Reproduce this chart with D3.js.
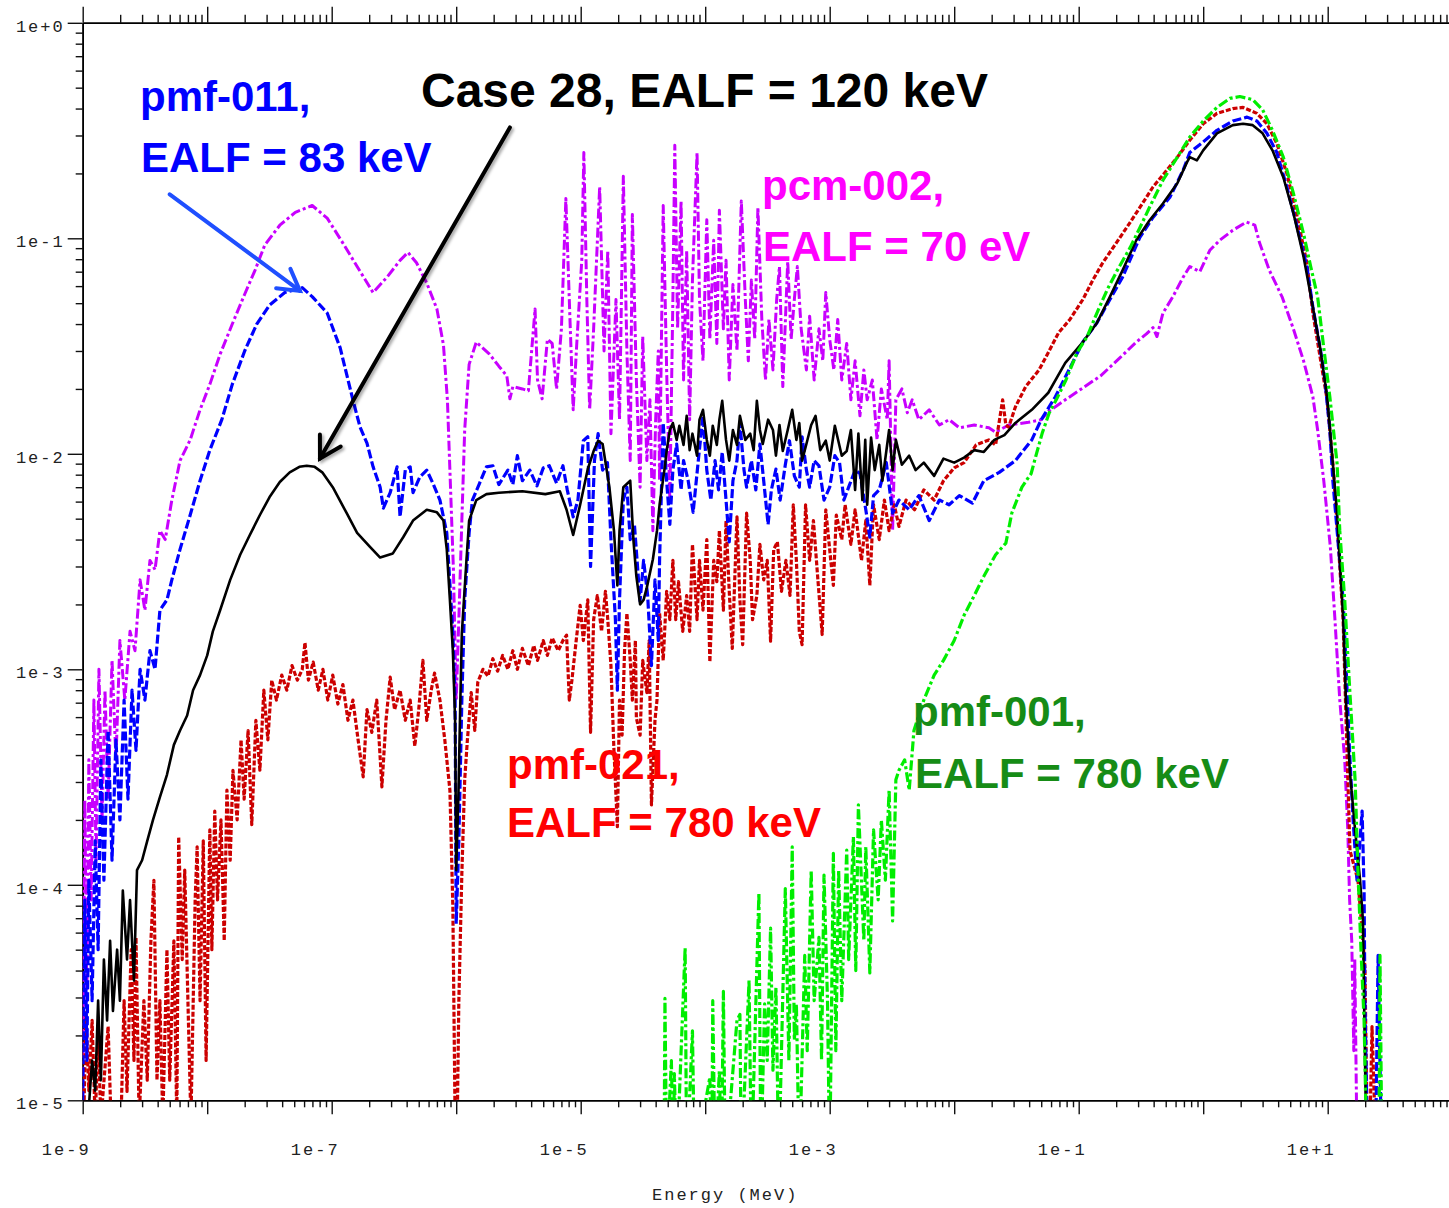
<!DOCTYPE html>
<html>
<head>
<meta charset="utf-8">
<script src="https://cdn.jsdelivr.net/npm/d3@7"></script>
<style>
    body { margin: 0; background: #fff; }
    svg { display: block; }
    .tick-label { font-family: "Liberation Mono", "DejaVu Sans Mono", monospace; font-size: 17px; fill: #222; letter-spacing: 2px; }
    .note { font-family: "Liberation Sans", Arial, Helvetica, sans-serif; font-weight: bold; font-size: 42px; }
</style>
</head>
<body>
<svg id="chart"></svg>
<script>
// flux per unit lethargy vs energy (MeV)
// values of 5e-6 / 8e-6 mean "falls below the bottom of the chart"

// pcm-002, EALF = 70 eV
const pcm002 = [
    [1.0e-9,1.05e-5],[1.04e-9,2.47e-4],[1.08e-9,2.9e-5],[1.12e-9,3.8e-4],[1.17e-9,8.5e-5],[1.23e-9,7.2e-4],[1.28e-9,1.3e-4],
    [1.35e-9,1.0e-3],[1.43e-9,2.0e-4],[1.51e-9,8.0e-4],[1.6e-9,2.5e-4],[1.72e-9,1.1e-3],[1.85e-9,3.8e-4],[1.99e-9,1.36e-3],
    [2.18e-9,7.2e-4],[2.4e-9,1.5e-3],[2.63e-9,1.22e-3],[2.89e-9,2.6e-3],[3.16e-9,1.88e-3],[3.47e-9,3.2e-3],[3.81e-9,2.9e-3],
    [4.17e-9,4.4e-3],[4.6e-9,4.0e-3],[5.2e-9,6.1e-3],[6.05e-9,9.3e-3],[7.3e-9,1.16e-2],[8.76e-9,1.6e-2],[1.05e-8,2.1e-2],
    [1.27e-8,2.9e-2],[1.59e-8,4.0e-2],[2.0e-8,5.5e-2],[2.42e-8,7.1e-2],[2.9e-8,9.3e-2],[3.83e-8,1.15e-1],[5.1e-8,1.32e-1],
    [6.97e-8,1.42e-1],[9.2e-8,1.24e-1],[1.23e-7,9.5e-2],[1.6e-7,7.4e-2],[2.15e-7,5.6e-2],[2.78e-7,6.6e-2],[3.54e-7,7.9e-2],
    [4.1e-7,8.6e-2],[4.8e-7,7.7e-2],[5.8e-7,6.2e-2],[7.0e-7,4.7e-2],[7.9e-7,3.2e-2],[8.5e-7,1.78e-2],[8.9e-7,8.4e-3],
    [9.5e-7,2.9e-3],[1.0e-6,7.2e-4],[1.05e-6,1.7e-3],[1.11e-6,4.9e-3],[1.17e-6,1.29e-2],[1.27e-6,2.6e-2],[1.45e-6,3.3e-2],
    [1.85e-6,2.9e-2],[2.2e-6,2.55e-2],[2.55e-6,2.3e-2],[2.7e-6,1.8e-2],[2.85e-6,2.05e-2],[3.4e-6,2.0e-2],[3.8e-6,1.96e-2],
    [4.3e-6,4.7e-2],[4.5e-6,2.2e-2],[4.9e-6,1.8e-2],[5.4e-6,3.4e-2],[5.9e-6,3.25e-2],[6.4e-6,2.0e-2],[7.0e-6,3.8e-2],
    [7.6e-6,1.53e-1],[8.2e-6,4.2e-2],[8.7e-6,1.6e-2],[9.3e-6,3.25e-2],[1.02e-5,7.9e-2],[1.06e-5,2.5e-1],[1.12e-5,5.2e-2],
    [1.18e-5,1.6e-2],[1.27e-5,3.8e-2],[1.42e-5,1.73e-1],[1.54e-5,3.0e-2],[1.65e-5,8.8e-2],[1.75e-5,1.24e-2],[1.92e-5,5.2e-2],
    [2.05e-5,1.44e-2],[2.2e-5,1.94e-1],[2.35e-5,3.0e-2],[2.5e-5,9.3e-3],[2.6e-5,1.29e-1],[2.8e-5,2.2e-2],[3.0e-5,7.0e-3],
    [3.15e-5,3.5e-2],[3.4e-5,9.3e-3],[3.6e-5,1.78e-2],[3.8e-5,4.4e-3],[4.0e-5,1.44e-2],[4.2e-5,3.0e-2],[4.3e-5,7.5e-3],
    [4.6e-5,1.42e-1],[4.9e-5,2.45e-2],[5.2e-5,6.1e-3],[5.5e-5,5.2e-2],[5.7e-5,2.7e-1],[6.0e-5,3.8e-2],[6.4e-5,1.49e-1],
    [6.7e-5,2.2e-2],[7.1e-5,8.8e-2],[7.5e-5,1.44e-2],[7.9e-5,6.4e-2],[8.6e-5,2.5e-1],[9.0e-5,5.2e-2],[9.6e-5,2.7e-2],
    [1.03e-4,1.22e-1],[1.09e-4,3.4e-2],[1.17e-4,9.8e-2],[1.24e-4,3.25e-2],[1.3e-4,1.35e-1],[1.4e-4,3.8e-2],[1.47e-4,7.9e-2],
    [1.56e-4,2.2e-2],[1.67e-4,6.1e-2],[1.8e-4,3.0e-2],[1.95e-4,1.49e-1],[2.1e-4,5.2e-2],[2.22e-4,2.7e-2],[2.35e-4,6.4e-2],
    [2.5e-4,3.4e-2],[2.65e-4,1.39e-1],[2.85e-4,4.2e-2],[3.05e-4,2.2e-2],[3.25e-4,4.2e-2],[3.5e-4,2.45e-2],[3.75e-4,5.2e-2],
    [3.95e-4,7.4e-2],[4.2e-4,2.05e-2],[4.6e-4,7.8e-2],[4.9e-4,3.4e-2],[5.2e-4,5.2e-2],[5.5e-4,7.4e-2],[5.9e-4,3.8e-2],
    [6.5e-4,2.45e-2],[6.9e-4,4.35e-2],[7.5e-4,2.2e-2],[8.2e-4,3.8e-2],[8.8e-4,2.7e-2],[9.3e-4,5.6e-2],[1.0e-3,3.4e-2],
    [1.08e-3,2.45e-2],[1.16e-3,4.2e-2],[1.25e-3,2.2e-2],[1.37e-3,3.25e-2],[1.48e-3,1.78e-2],[1.6e-3,2.7e-2],[1.75e-3,1.5e-2],
    [1.88e-3,2.45e-2],[2.0e-3,1.78e-2],[2.2e-3,2.2e-2],[2.4e-3,1.16e-2],[2.6e-3,2.0e-2],[2.9e-3,1.44e-2],[3.0e-3,2.7e-2],
    [3.2e-3,4.4e-3],[3.4e-3,1.78e-2],[3.8e-3,2.0e-2],[4.2e-3,1.55e-2],[4.6e-3,1.78e-2],[5.2e-3,1.44e-2],[6.3e-3,1.6e-2],
    [7.6e-3,1.36e-2],[9.1e-3,1.44e-2],[1.1e-2,1.32e-2],[1.45e-2,1.36e-2],[1.9e-2,1.32e-2],[2.15e-2,1.26e-2],[2.74e-2,1.36e-2],
    [3.95e-2,1.4e-2],[5.0e-2,1.44e-2],[5.7e-2,1.57e-2],[7.8e-2,1.78e-2],[1.05e-1,2.0e-2],[1.5e-1,2.3e-2],[2.16e-1,2.8e-2],
    [2.9e-1,3.3e-2],[3.5e-1,3.6e-2],[3.95e-1,3.85e-2],[4.25e-1,3.5e-2],[4.75e-1,4.5e-2],[5.7e-1,5.35e-2],[6.9e-1,6.6e-2],
    [7.8e-1,7.4e-2],[9.4e-1,7.0e-2],[1.13,8.8e-2],[1.36,9.8e-2],[1.73,1.09e-1],[2.23,1.19e-1],[2.6,1.15e-1],[2.84,9.5e-2],
    [3.4,7.1e-2],[4.3,5.35e-2],[5.3,3.8e-2],[6.4,2.7e-2],[7.6,1.84e-2],[8.3,1.29e-2],[9.3,7.5e-3],[10.5,3.7e-3],
    [11.4,1.75e-3],[12.5,7.2e-4],[13.7,3.8e-4],[14.5,1.8e-4],[15.0,8.5e-5],[15.6,5.5e-5],[16.2,1.7e-5],[16.5,4.5e-5],[17.1,8e-6]
];

// pmf-011, EALF = 83 keV
const pmf011 = [
    [1.0e-9,1.0e-5],[1.04e-9,8.5e-5],[1.08e-9,1.53e-5],[1.12e-9,1.05e-4],[1.19e-9,2.9e-5],[1.26e-9,1.6e-4],[1.33e-9,5.0e-5],
    [1.4e-9,3.8e-4],[1.48e-9,1.05e-4],[1.6e-9,5.2e-4],[1.72e-9,1.3e-4],[1.85e-9,4.7e-4],[1.99e-9,2.0e-4],[2.15e-9,7.2e-4],
    [2.31e-9,2.5e-4],[2.49e-9,8.0e-4],[2.68e-9,4.2e-4],[2.89e-9,1.0e-3],[3.16e-9,7.2e-4],[3.47e-9,1.22e-3],[3.81e-9,1.0e-3],
    [4.17e-9,1.88e-3],[4.75e-9,2.1e-3],[5.2e-9,2.6e-3],[6.05e-9,3.6e-3],[7.3e-9,5.2e-3],[8.76e-9,7.5e-3],[1.05e-8,1.04e-2],
    [1.31e-8,1.44e-2],[1.59e-8,2.1e-2],[2.0e-8,3.0e-2],[2.5e-8,4.0e-2],[3.17e-8,4.9e-2],[4.2e-8,5.6e-2],[5.8e-8,5.9e-2],
    [7.0e-8,5.35e-2],[9.2e-8,4.5e-2],[1.17e-7,3.1e-2],[1.48e-7,1.78e-2],[1.69e-7,1.33e-2],[1.92e-7,1.12e-2],[2.15e-7,8.7e-3],
    [2.45e-7,7.0e-3],[2.6e-7,5.6e-3],[2.95e-7,6.6e-3],[3.35e-7,8.7e-3],[3.54e-7,5.1e-3],[3.9e-7,8.4e-3],[4.27e-7,8.7e-3],
    [4.5e-7,6.6e-3],[5.1e-7,7.8e-3],[5.8e-7,8.4e-3],[6.5e-7,7.3e-3],[7.4e-7,6.1e-3],[8.4e-7,4.3e-3],[8.9e-7,2.5e-3],
    [9.4e-7,1.47e-3],[9.8e-7,7.2e-4],[1.0e-6,6.6e-5],[1.05e-6,1.6e-4],[1.11e-6,7.2e-4],[1.17e-6,2.1e-3],[1.27e-6,4.3e-3],
    [1.35e-6,6.1e-3],[1.54e-6,7.3e-3],[1.75e-6,8.7e-3],[1.97e-6,8.8e-3],[2.2e-6,7.2e-3],[2.6e-6,8.4e-3],[2.85e-6,7.2e-3],
    [3.1e-6,9.8e-3],[3.4e-6,7.5e-3],[3.9e-6,8.4e-3],[4.45e-6,7.1e-3],[5.0e-6,8.6e-3],[5.6e-6,8.8e-3],[6.4e-6,7.3e-3],
    [7.2e-6,8.8e-3],[7.8e-6,6.8e-3],[8.7e-6,5.1e-3],[9.5e-6,6.1e-3],[1.05e-5,1.15e-2],[1.14e-5,1.2e-2],[1.2e-5,3.0e-3],
    [1.29e-5,9.3e-3],[1.38e-5,1.24e-2],[1.5e-5,8.4e-3],[1.64e-5,9.1e-3],[1.75e-5,4.0e-3],[1.9e-5,1.7e-3],[1.97e-5,8.0e-4],
    [2.05e-5,2.1e-3],[2.2e-5,6.1e-3],[2.35e-5,7.0e-3],[2.5e-5,4.0e-3],[2.7e-5,4.7e-3],[3.0e-5,2.07e-3],[3.2e-5,3.2e-3],
    [3.45e-5,2.2e-3],[3.7e-5,1.04e-3],[3.95e-5,2.6e-3],[4.2e-5,1.36e-3],[4.3e-5,3.2e-3],[4.6e-5,1.39e-2],[4.9e-5,7.5e-3],
    [5.2e-5,4.7e-3],[5.5e-5,8.4e-3],[5.9e-5,1.11e-2],[6.4e-5,6.8e-3],[6.7e-5,9.3e-3],[7.3e-5,7.5e-3],[8.0e-5,5.35e-3],
    [8.8e-5,9.3e-3],[9.6e-5,1.5e-2],[1.03e-4,8.4e-3],[1.11e-4,6.1e-3],[1.2e-4,9.3e-3],[1.28e-4,6.8e-3],[1.37e-4,1.02e-2],
    [1.47e-4,6.1e-3],[1.56e-4,3.9e-3],[1.67e-4,7.5e-3],[1.8e-4,9.3e-3],[1.9e-4,1.39e-2],[2.05e-4,8.4e-3],[2.15e-4,7.0e-3],
    [2.35e-4,9.3e-3],[2.55e-4,6.8e-3],[2.75e-4,1.11e-2],[2.95e-4,7.5e-3],[3.2e-4,4.7e-3],[3.4e-4,6.8e-3],[3.7e-4,8.5e-3],
    [4.0e-4,6.1e-3],[4.4e-4,8.9e-3],[4.75e-4,1.15e-2],[5.2e-4,7.9e-3],[5.7e-4,7.0e-3],[6.0e-4,1.2e-2],[6.5e-4,8.4e-3],
    [6.9e-4,7.0e-3],[7.5e-4,9.3e-3],[8.2e-4,8.8e-3],[9.0e-4,6.1e-3],[1.0e-3,7.0e-3],[1.1e-3,9.8e-3],[1.2e-3,9.1e-3],
    [1.3e-3,6.1e-3],[1.42e-3,7.0e-3],[1.6e-3,8.4e-3],[1.75e-3,8.1e-3],[1.95e-3,5.5e-3],[2.1e-3,4.1e-3],[2.25e-3,6.4e-3],
    [2.5e-3,6.8e-3],[2.85e-3,9.1e-3],[3.2e-3,5.3e-3],[3.6e-3,6.1e-3],[4.35e-3,5.5e-3],[5.2e-3,6.4e-3],[6.3e-3,4.9e-3],
    [7.6e-3,6.1e-3],[9.1e-3,5.8e-3],[1.1e-2,6.4e-3],[1.4e-2,5.9e-3],[1.73e-2,7.5e-3],[2.3e-2,8.2e-3],[3.1e-2,9.3e-3],
    [4.2e-2,1.16e-2],[5.0e-2,1.44e-2],[6.5e-2,1.84e-2],[8.5e-2,2.5e-2],[1.08e-1,3.3e-2],[1.4e-1,4.05e-2],[1.78e-1,5.2e-2],
    [2.25e-1,6.6e-2],[3.1e-1,1.01e-1],[3.95e-1,1.25e-1],[5.4e-1,1.55e-1],[6.9e-1,2.07e-1],[7.8e-1,2.5e-1],[1.0,2.8e-1],
    [1.29,3.17e-1],[1.73,3.5e-1],[2.25,3.65e-1],[2.7,3.5e-1],[3.25,3.07e-1],[3.9,2.5e-1],[4.7,1.73e-1],[5.6,1.17e-1],
    [6.8,7.4e-2],[7.6,4.8e-2],[8.7,3.1e-2],[9.5,2.2e-2],[10.4,1.29e-2],[11.0,7.5e-3],[11.9,4.4e-3],[13.3,2.1e-3],
    [14.2,8.9e-4],[15.0,4.1e-4],[16.0,2.0e-4],[17.2,1.05e-4],[18.9,2.2e-4],[19.6,9.4e-5],[19.9,2.9e-5],[20.7,8e-6],
    [24.4,8e-6],[25.4,4.7e-5],[26.8,8e-6]
];

// Case 28, EALF = 120 keV
const case28 = [
    [1.1e-9,8e-6],[1.19e-9,1.53e-5],[1.26e-9,1.11e-5],[1.33e-9,2.9e-5],[1.4e-9,1.24e-5],[1.48e-9,4.5e-5],[1.57e-9,2.35e-5],
    [1.66e-9,5.5e-5],[1.75e-9,2.6e-5],[1.89e-9,5.0e-5],[1.99e-9,2.9e-5],[2.1e-9,9.4e-5],[2.27e-9,4.5e-5],[2.4e-9,8.5e-5],
    [2.58e-9,3.6e-5],[2.73e-9,1.17e-4],[3.0e-9,1.3e-4],[3.3e-9,1.6e-4],[3.67e-9,2.0e-4],[4.17e-9,2.55e-4],[4.75e-9,3.24e-4],
    [5.4e-9,4.46e-4],[6.05e-9,5.2e-4],[6.9e-9,6.1e-4],[7.7e-9,8.0e-4],[8.76e-9,9.4e-4],[1.0e-8,1.16e-3],[1.11e-8,1.5e-3],
    [1.27e-8,1.88e-3],[1.53e-8,2.6e-3],[1.84e-8,3.4e-3],[2.2e-8,4.2e-3],[2.65e-8,5.2e-3],[3.17e-8,6.3e-3],[3.83e-8,7.4e-3],
    [4.6e-8,8.2e-3],[5.5e-8,8.7e-3],[6.3e-8,8.8e-3],[7.3e-8,8.7e-3],[8.4e-8,8.2e-3],[1.02e-7,7.0e-3],[1.32e-7,5.3e-3],
    [1.6e-7,4.3e-3],[2.03e-7,3.7e-3],[2.45e-7,3.3e-3],[3.1e-7,3.45e-3],[3.75e-7,4.1e-3],[4.5e-7,4.9e-3],[5.8e-7,5.5e-3],
    [7.0e-7,5.35e-3],[7.9e-7,4.9e-3],[8.4e-7,3.6e-3],[8.9e-7,2.1e-3],[9.4e-7,1.22e-3],[9.8e-7,5.8e-4],[1.0e-6,1.17e-4],
    [1.04e-6,2.5e-4],[1.08e-6,7.2e-4],[1.11e-6,1.47e-3],[1.2e-6,3.0e-3],[1.27e-6,4.9e-3],[1.45e-6,6.1e-3],[1.75e-6,6.5e-3],
    [2.2e-6,6.6e-3],[3.4e-6,6.7e-3],[5.2e-6,6.5e-3],[6.8e-6,6.7e-3],[7.7e-6,5.5e-3],[8.7e-6,4.2e-3],[9.9e-6,5.8e-3],
    [1.14e-5,8.5e-3],[1.27e-5,1.03e-2],[1.38e-5,1.15e-2],[1.5e-5,1.11e-2],[1.7e-5,7.0e-3],[1.85e-5,4.4e-3],[1.97e-5,2.45e-3],
    [2.05e-5,4.4e-3],[2.2e-5,7.0e-3],[2.5e-5,7.5e-3],[2.65e-5,4.0e-3],[2.8e-5,2.7e-3],[3.0e-5,2.0e-3],[3.2e-5,2.1e-3],
    [3.4e-5,2.4e-3],[3.8e-5,3.24e-3],[4.1e-5,4.4e-3],[4.3e-5,5.8e-3],[4.7e-5,8.4e-3],[4.9e-5,1.03e-2],[5.2e-5,1.29e-2],
    [5.5e-5,1.39e-2],[5.9e-5,1.16e-2],[6.2e-5,1.35e-2],[6.7e-5,1.1e-2],[7.1e-5,1.5e-2],[7.5e-5,1.04e-2],[7.9e-5,1.24e-2],
    [8.6e-5,9.8e-3],[9.0e-5,1.44e-2],[9.6e-5,1.6e-2],[1.03e-4,1.16e-2],[1.09e-4,9.8e-3],[1.15e-4,1.35e-2],[1.24e-4,1.1e-2],
    [1.3e-4,1.44e-2],[1.37e-4,1.76e-2],[1.47e-4,1.16e-2],[1.56e-4,9.3e-3],[1.67e-4,1.29e-2],[1.8e-4,1.1e-2],[1.9e-4,1.5e-2],
    [2.1e-4,1.16e-2],[2.3e-4,1.24e-2],[2.45e-4,1.04e-2],[2.6e-4,1.76e-2],[2.75e-4,1.29e-2],[2.9e-4,1.11e-2],[3.2e-4,1.44e-2],
    [3.5e-4,1.29e-2],[3.7e-4,9.8e-3],[3.95e-4,1.36e-2],[4.2e-4,1.03e-2],[4.6e-4,1.29e-2],[5.0e-4,1.6e-2],[5.4e-4,1.16e-2],
    [5.7e-4,1.39e-2],[6.0e-4,9.3e-3],[6.5e-4,1.11e-2],[7.1e-4,1.36e-2],[7.7e-4,1.5e-2],[8.4e-4,1.04e-2],[9.3e-4,1.15e-2],
    [1.0e-3,9.3e-3],[1.1e-3,1.35e-2],[1.25e-3,9.8e-3],[1.37e-3,1.03e-2],[1.48e-3,1.29e-2],[1.6e-3,6.8e-3],[1.7e-3,1.24e-2],
    [1.83e-3,6.1e-3],[1.93e-3,1.16e-2],[2.0e-3,5.8e-3],[2.15e-3,1.19e-2],[2.3e-3,8.4e-3],[2.5e-3,1.1e-2],[2.65e-3,7.5e-3],
    [2.85e-3,1.03e-2],[3.0e-3,1.29e-2],[3.2e-3,8.4e-3],[3.4e-3,1.16e-2],[3.8e-3,8.9e-3],[4.35e-3,9.8e-3],[4.9e-3,8.4e-3],
    [5.7e-3,9.1e-3],[6.9e-3,7.9e-3],[8.2e-3,9.5e-3],[1.0e-2,9.1e-3],[1.2e-2,9.6e-3],[1.45e-2,1.04e-2],[1.73e-2,1.02e-2],
    [2.1e-2,1.16e-2],[2.53e-2,1.22e-2],[3.1e-2,1.39e-2],[4.2e-2,1.6e-2],[5.7e-2,1.92e-2],[7.8e-2,2.64e-2],[1.08e-1,3.3e-2],
    [1.4e-1,4.05e-2],[1.78e-1,5.35e-2],[2.25e-1,7.1e-2],[2.9e-1,9.8e-2],[3.7e-1,1.21e-1],[4.75e-1,1.45e-1],[6.2e-1,1.8e-1],
    [7.4e-1,2.25e-1],[7.8e-1,2.38e-1],[8.9e-1,2.3e-1],[1.0,2.56e-1],[1.29,3.07e-1],[1.73,3.35e-1],[2.09,3.4e-1],[2.5,3.35e-1],
    [3.0,3.07e-1],[3.6,2.56e-1],[4.4,1.92e-1],[5.3,1.31e-1],[6.4,8.2e-2],[7.6,4.8e-2],[8.7,3.1e-2],[9.9,1.84e-2],
    [11.0,9.0e-3],[11.9,5.3e-3],[12.5,3.2e-3],[13.3,1.75e-3],[14.0,7.2e-4],[15.1,3.3e-4],[16.6,1.8e-4],[18.2,1.05e-4],
    [19.2,6.8e-5],[19.6,2.9e-5],[20.3,8e-6]
];

// pmf-021, EALF = 780 keV
const pmf021 = [
    [1.02e-9,8e-6],[1.06e-9,2.6e-5],[1.12e-9,1.11e-5],[1.19e-9,2.35e-5],[1.26e-9,8e-6],[1.33e-9,2.1e-5],[1.4e-9,8e-6],
    [1.6e-9,2.2e-5],[1.69e-9,8e-6],[2.03e-9,8e-6],[2.15e-9,2.9e-5],[2.27e-9,1.1e-5],[2.45e-9,5.0e-5],[2.58e-9,1.53e-5],
    [2.68e-9,5.7e-5],[2.84e-9,8e-6],[3.1e-9,2.9e-5],[3.3e-9,1.24e-5],[3.53e-9,5.5e-5],[3.73e-9,1.05e-4],[3.95e-9,1.24e-5],
    [4.17e-9,2.9e-5],[4.4e-9,8e-6],[4.75e-9,5.0e-5],[5.0e-9,1.24e-5],[5.4e-9,5.5e-5],[5.7e-9,8e-6],[5.9e-9,1.67e-4],
    [6.3e-9,4.5e-5],[6.6e-9,1.17e-4],[7.0e-9,2.9e-5],[7.4e-9,8e-6],[8.0e-9,8.5e-5],[8.3e-9,1.5e-4],[8.76e-9,2.9e-5],
    [9.3e-9,1.6e-4],[9.8e-9,1.53e-5],[1.05e-8,1.8e-4],[1.09e-8,5.0e-5],[1.15e-8,2.2e-4],[1.21e-8,8.5e-5],[1.29e-8,2.0e-4],
    [1.37e-8,5.5e-5],[1.44e-8,2.75e-4],[1.53e-8,1.3e-4],[1.61e-8,3.4e-4],[1.74e-8,2.0e-4],[1.87e-8,4.7e-4],[1.98e-8,2.5e-4],
    [2.13e-8,5.2e-4],[2.28e-8,1.9e-4],[2.46e-8,5.8e-4],[2.65e-8,3.4e-4],[2.85e-8,8.0e-4],[3.07e-8,4.7e-4],[3.3e-8,8.9e-4],
    [3.6e-8,7.2e-4],[3.97e-8,9.4e-4],[4.36e-8,8.0e-4],[4.8e-8,1.04e-3],[5.3e-8,8.9e-4],[5.8e-8,1.0e-3],[6.1e-8,1.33e-3],
    [6.5e-8,8.9e-4],[7.1e-8,1.08e-3],[7.8e-8,8.0e-4],[8.5e-8,1.0e-3],[9.3e-8,7.2e-4],[1.02e-7,9.4e-4],[1.12e-7,6.9e-4],
    [1.23e-7,8.5e-4],[1.35e-7,5.8e-4],[1.48e-7,7.2e-4],[1.63e-7,4.7e-4],[1.79e-7,3.17e-4],[1.92e-7,6.5e-4],[2.1e-7,5.1e-4],
    [2.3e-7,7.2e-4],[2.53e-7,2.85e-4],[2.73e-7,5.8e-4],[2.95e-7,9.2e-4],[3.2e-7,6.5e-4],[3.54e-7,8.0e-4],[3.9e-7,5.8e-4],
    [4.27e-7,7.2e-4],[4.65e-7,4.4e-4],[5.0e-7,6.5e-4],[5.4e-7,1.1e-3],[5.8e-7,5.8e-4],[6.3e-7,8.0e-4],[6.7e-7,9.6e-4],
    [7.4e-7,7.2e-4],[8.1e-7,4.7e-4],[8.9e-7,2.75e-4],[9.4e-7,7.9e-5],[9.8e-7,8e-6],[1.02e-6,8e-6],[1.05e-6,2.9e-5],
    [1.11e-6,1.13e-4],[1.17e-6,3.07e-4],[1.23e-6,4.7e-4],[1.32e-6,7.8e-4],[1.41e-6,5.2e-4],[1.49e-6,8.7e-4],[1.64e-6,1.0e-3],
    [1.8e-6,9.3e-4],[1.97e-6,1.12e-3],[2.15e-6,9.8e-4],[2.36e-6,1.16e-3],[2.6e-6,1.0e-3],[2.85e-6,1.22e-3],[3.1e-6,1.0e-3],
    [3.4e-6,1.25e-3],[3.8e-6,1.04e-3],[4.2e-6,1.29e-3],[4.5e-6,1.1e-3],[5.0e-6,1.36e-3],[5.4e-6,1.16e-3],[5.9e-6,1.4e-3],
    [6.6e-6,1.22e-3],[7.2e-6,1.36e-3],[7.7e-6,1.44e-3],[8.1e-6,7.2e-4],[8.5e-6,8.9e-4],[9.2e-6,1.36e-3],[9.9e-6,1.98e-3],
    [1.05e-5,1.36e-3],[1.14e-5,2.1e-3],[1.2e-5,5.1e-4],[1.27e-5,1.7e-3],[1.36e-5,2.2e-3],[1.47e-5,1.5e-3],[1.58e-5,2.3e-3],
    [1.65e-5,1.7e-3],[1.75e-5,1.04e-3],[1.85e-5,4.2e-4],[1.97e-5,1.86e-4],[2.05e-5,7.2e-4],[2.15e-5,4.95e-4],[2.25e-5,1.22e-3],
    [2.35e-5,1.82e-3],[2.5e-5,1.1e-3],[2.6e-5,7.2e-4],[2.75e-5,1.36e-3],[2.8e-5,5.95e-4],[3.0e-5,4.95e-4],[3.15e-5,1.1e-3],
    [3.4e-5,7.8e-4],[3.55e-5,1.36e-3],[3.7e-5,2.35e-4],[3.95e-5,5.8e-4],[4.1e-5,7.2e-4],[4.3e-5,1.82e-3],[4.6e-5,1.1e-3],
    [4.9e-5,2.3e-3],[5.2e-5,1.7e-3],[5.5e-5,3.2e-3],[5.8e-5,1.7e-3],[6.1e-5,2.55e-3],[6.6e-5,1.5e-3],[7.1e-5,2.2e-3],
    [7.5e-5,1.5e-3],[7.9e-5,3.8e-3],[8.6e-5,1.7e-3],[9.0e-5,3.2e-3],[9.6e-5,1.88e-3],[1.03e-4,4.0e-3],[1.09e-4,1.08e-3],
    [1.17e-4,3.2e-3],[1.24e-4,2.55e-3],[1.3e-4,4.4e-3],[1.4e-4,1.88e-3],[1.47e-4,4.9e-3],[1.56e-4,2.3e-3],[1.65e-4,1.25e-3],
    [1.8e-4,5.1e-3],[1.9e-4,2.1e-3],[2.0e-4,1.3e-3],[2.15e-4,5.3e-3],[2.3e-4,3.2e-3],[2.4e-4,1.7e-3],[2.6e-4,2.2e-3],
    [2.75e-4,3.8e-3],[2.95e-4,2.6e-3],[3.15e-4,3.2e-3],[3.35e-4,1.35e-3],[3.55e-4,3.6e-3],[3.8e-4,3.9e-3],[4.1e-4,2.3e-3],
    [4.45e-4,3.2e-3],[4.8e-4,2.2e-3],[5.1e-4,5.8e-3],[5.4e-4,3.2e-3],[5.7e-4,1.5e-3],[6.0e-4,1.3e-3],[6.4e-4,5.8e-3],
    [6.9e-4,3.2e-3],[7.4e-4,4.9e-3],[8.0e-4,2.7e-3],[8.7e-4,1.45e-3],[9.3e-4,5.5e-3],[1.02e-3,3.2e-3],[1.07e-3,2.45e-3],
    [1.13e-3,5.2e-3],[1.25e-3,4.0e-3],[1.33e-3,5.8e-3],[1.48e-3,3.8e-3],[1.6e-3,5.5e-3],[1.8e-3,3.2e-3],[1.95e-3,4.9e-3],
    [2.1e-3,2.45e-3],[2.25e-3,5.8e-3],[2.5e-3,4.0e-3],[2.75e-3,6.1e-3],[3.0e-3,4.4e-3],[3.3e-3,5.8e-3],[3.6e-3,4.6e-3],
    [4.1e-3,6.1e-3],[4.8e-3,5.5e-3],[5.7e-3,6.8e-3],[6.9e-3,6.1e-3],[8.2e-3,7.5e-3],[1.0e-2,8.6e-3],[1.2e-2,9.1e-3],
    [1.5e-2,1.1e-2],[1.9e-2,1.16e-2],[2.15e-2,1.1e-2],[2.45e-2,1.78e-2],[2.6e-2,1.36e-2],[2.74e-2,1.33e-2],[3.1e-2,1.65e-2],
    [3.75e-2,2.05e-2],[4.8e-2,2.45e-2],[5.7e-2,2.95e-2],[6.9e-2,3.65e-2],[8.5e-2,4.2e-2],[1.08e-1,5.2e-2],[1.3e-1,6.4e-2],
    [1.56e-1,7.7e-2],[2.0e-1,9.5e-2],[2.55e-1,1.17e-1],[3.1e-1,1.39e-1],[3.95e-1,1.73e-1],[5.1e-1,2.07e-1],[6.2e-1,2.38e-1],
    [7.8e-1,2.85e-1],[1.0,3.4e-1],[1.29,3.8e-1],[1.73,4.0e-1],[2.09,4.05e-1],[2.7,3.8e-1],[3.25,3.4e-1],[3.9,2.76e-1],
    [4.7,2.0e-1],[5.6,1.31e-1],[6.8,7.7e-2],[7.6,4.5e-2],[8.7,2.8e-2],[9.9,1.78e-2],[11.0,9.0e-3],[12.0,4.4e-3],
    [13.3,1.7e-3],[14.2,4.7e-4],[15.1,1.44e-4],[17.5,1.05e-4],[18.9,6.1e-5],[19.9,4.15e-5],[20.7,8e-6],[21.9,8e-6],
    [22.7,2.2e-5],[24.0,8e-6]
];

// pmf-001, EALF = 780 keV
const pmf001 = [
    [4.67e-5,5e-6],[4.75e-5,2.97e-5],[4.9e-5,5e-6],[5.35e-5,1.53e-5],[5.55e-5,5e-6],[5.65e-5,1.33e-5],[5.9e-5,5e-6],
    [6.9e-5,5.1e-5],[7.1e-5,5e-6],[7.9e-5,2.1e-5],[8.2e-5,5e-6],[1.09e-4,1.28e-5],[1.13e-4,5e-6],[1.15e-4,2.9e-5],
    [1.2e-4,5e-6],[1.3e-4,1.38e-5],[1.35e-4,5e-6],[1.4e-4,3.2e-5],[1.45e-4,5e-6],[1.8e-4,2.35e-5],[1.9e-4,2.5e-5],
    [1.95e-4,5e-6],[2.25e-4,3.6e-5],[2.35e-4,5e-6],[2.7e-4,9.2e-5],[2.8e-4,5e-6],[3.0e-4,2.8e-5],[3.15e-4,1.53e-5],
    [3.35e-4,6.3e-5],[3.5e-4,1.38e-5],[3.7e-4,3.35e-5],[3.9e-4,5e-6],[4.4e-4,9.6e-5],[4.7e-4,1.53e-5],[5.0e-4,1.5e-4],
    [5.2e-4,1.9e-5],[5.4e-4,2.8e-5],[5.7e-4,5e-6],[6.3e-4,4.7e-5],[6.6e-4,1.7e-5],[7.1e-4,1.17e-4],[7.5e-4,2.9e-5],
    [8.2e-4,5.7e-5],[8.6e-4,1.53e-5],[9.0e-4,1.11e-4],[9.6e-4,2.9e-5],[1.0e-3,5e-6],[1.07e-3,1.4e-4],[1.12e-3,1.7e-5],
    [1.18e-3,1.17e-4],[1.25e-3,2.9e-5],[1.37e-3,1.45e-4],[1.42e-3,4.5e-5],[1.55e-3,1.67e-4],[1.62e-3,4.0e-5],[1.7e-3,2.35e-4],
    [1.88e-3,5.5e-5],[1.95e-3,1.5e-4],[2.1e-3,3.9e-5],[2.25e-3,1.8e-4],[2.45e-3,8.5e-5],[2.6e-3,2.0e-4],[2.8e-3,1.05e-4],
    [3.0e-3,2.75e-4],[3.2e-3,6.8e-5],[3.4e-3,3.07e-4],[3.6e-3,3.4e-4],[4.0e-3,3.8e-4],[4.35e-3,2.75e-4],[4.75e-3,5.2e-4],
    [5.7e-3,7.2e-4],[6.9e-3,9.4e-4],[8.2e-3,1.1e-3],[1.0e-2,1.36e-3],[1.2e-2,1.78e-3],[1.45e-2,2.2e-3],[1.73e-2,2.7e-3],
    [2.15e-2,3.4e-3],[2.6e-2,3.85e-3],[2.9e-2,5.3e-3],[3.5e-2,7.0e-3],[4.15e-2,8.1e-3],[4.6e-2,1.01e-2],[5.1e-2,1.25e-2],
    [5.8e-2,1.55e-2],[6.6e-2,1.78e-2],[7.9e-2,2.2e-2],[9.7e-2,2.95e-2],[1.17e-1,3.5e-2],[1.4e-1,4.5e-2],[1.7e-1,5.8e-2],
    [2.04e-1,7.1e-2],[2.6e-1,9.1e-2],[3.1e-1,1.12e-1],[3.7e-1,1.39e-1],[4.75e-1,1.86e-1],[6.2e-1,2.38e-1],[7.8e-1,2.95e-1],
    [1.0,3.5e-1],[1.29,4.05e-1],[1.64,4.46e-1],[1.97,4.55e-1],[2.5,4.4e-1],[3.0,3.95e-1],[3.6,3.17e-1],[4.4,2.38e-1],
    [5.3,1.62e-1],[6.4,1.05e-1],[7.3,7.4e-2],[8.3,5.35e-2],[9.3,3.1e-2],[10.4,1.84e-2],[11.9,9.0e-3],[12.5,4.4e-3],
    [13.7,2.1e-3],[15.0,8.2e-4],[16.6,3.07e-4],[17.5,1.17e-4],[18.5,5.0e-5],[19.6,2.35e-5],[20.7,5e-6],[25.8,5e-6],
    [26.3,4.7e-5],[27.3,5e-6]
];

// axis ticks and labels
const xMajorTicks = [1e-9, 1e-8, 1e-7, 1e-6, 1e-5, 1e-4, 1e-3, 1e-2, 1e-1, 1e0, 1e1, 1e2];
const xLabelTicks = [1e-9, 1e-7, 1e-5, 1e-3, 1e-1, 1e1];
const xTickLabels = ['1e-9', '1e-7', '1e-5', '1e-3', '1e-1', '1e+1'];
const yMajorTicks = [1e0, 1e-1, 1e-2, 1e-3, 1e-4, 1e-5];
const yTickLabels = ['1e+0', '1e-1', '1e-2', '1e-3', '1e-4', '1e-5'];

let width = 1449, height = 1208;
let svg = d3.select('#chart').attr('width', width).attr('height', height);

// soft shadow for the black arrow
svg.append('defs').append('filter').attr('id', 'shadow')
    .append('feDropShadow')
    .attr('dx', 2).attr('dy', 2).attr('stdDeviation', 1.5)
    .attr('flood-color', '#000').attr('flood-opacity', 0.35);

// log-log scales
let x = d3.scaleLog().domain([1e-9, 1e2]).range([82.7, 1452.2]);
let y = d3.scaleLog().domain([1e-5, 1]).range([1100.3, 22.8]);

// 2..9 minor ticks inside each decade
function minorTicks(majors) {
    let out = [];
    majors.forEach(function (m) {
        d3.range(2, 10).forEach(function (k) { out.push(m * k); });
    });
    return out;
}
let xMinor = minorTicks(xMajorTicks).filter(d => d < 1e2);
let yMinor = minorTicks(yMajorTicks).filter(d => d < 1);

function styleAxis(g) {
    g.select('.domain').attr('stroke', '#000').attr('stroke-width', 1.6);
    g.selectAll('.tick line').attr('stroke', '#111').attr('stroke-width', 1.4);
}

// bottom axis
let bottomAxis = svg.append('g').attr('transform', `translate(0,${y(1e-5)})`);
bottomAxis.append('g').call(d3.axisBottom(x).tickValues(xMinor).tickSize(7).tickSizeOuter(0).tickFormat('')).call(styleAxis);
bottomAxis.append('g')
    .call(d3.axisBottom(x).tickValues(xMajorTicks).tickSize(14).tickSizeOuter(0)
        .tickFormat(function (d) {
            let i = xLabelTicks.indexOf(d);
            return i >= 0 ? xTickLabels[i] : '';
        }))
    .call(styleAxis)
    .selectAll('text')
    .attr('class', 'tick-label')
    .attr('x', -17).attr('y', 55).attr('dy', 0);

// top axis, no labels
let topAxis = svg.append('g').attr('transform', `translate(0,${y(1)})`);
topAxis.append('g').call(d3.axisTop(x).tickValues(xMinor).tickSize(8).tickSizeOuter(0).tickFormat('')).call(styleAxis);
topAxis.append('g').call(d3.axisTop(x).tickValues(xMajorTicks).tickSize(16).tickSizeOuter(0).tickFormat('')).call(styleAxis);

// left axis
let leftAxis = svg.append('g').attr('transform', `translate(${x(1e-9)},0)`);
leftAxis.append('g').call(d3.axisLeft(y).tickValues(yMinor).tickSize(7).tickSizeOuter(0).tickFormat('')).call(styleAxis);
leftAxis.append('g')
    .call(d3.axisLeft(y).tickValues(yMajorTicks).tickSize(15).tickSizeOuter(0)
        .tickFormat((d, i) => yTickLabels[i]))
    .call(styleAxis)
    .selectAll('text')
    .attr('class', 'tick-label')
    .attr('x', -18).attr('dy', '0.5em');

svg.append('text')
    .attr('class', 'tick-label')
    .attr('x', 652).attr('y', 1200)
    .text('Energy (MeV)');

// clip the curves to the plot box
svg.append('clipPath').attr('id', 'plot-clip')
    .append('rect')
    .attr('x', x(1e-9)).attr('y', y(1))
    .attr('width', width - x(1e-9)).attr('height', y(1e-5) - y(1));

let line = d3.line()
    .x(d => x(d[0]))
    .y(d => y(d[1]));

let series = [
    {data: pcm002, color: '#c800ff', dash: '10,3,3,3', w: 3},
    {data: pmf021, color: '#cc0000', dash: '5,2', w: 3.2},
    {data: pmf011, color: '#0000ff', dash: '9,3', w: 3.2},
    {data: case28, color: '#000000', dash: null, w: 2.6},
    {data: pmf001, color: '#00ee00', dash: '10,3,3,3', w: 3.2}
];

svg.append('g')
    .attr('clip-path', 'url(#plot-clip)')
    .selectAll('path')
    .data(series)
    .enter().append('path')
    .attr('d', d => line(d.data))
    .attr('fill', 'none')
    .attr('stroke', d => d.color)
    .attr('stroke-width', d => d.w)
    .attr('stroke-dasharray', d => d.dash)
    .attr('stroke-linejoin', 'round');

// arrows, placed in data coordinates
function arrow(e1, f1, e2, f2, color, shadow) {
    let x1 = x(e1), y1 = y(f1), x2 = x(e2), y2 = y(f2);
    let a = Math.atan2(y1 - y2, x1 - x2);
    let len = 24, spread = Math.PI / 6;
    let g = svg.append('g')
        .attr('stroke', color).attr('stroke-width', 4)
        .attr('stroke-linecap', 'round').attr('fill', 'none');
    if (shadow) g.attr('filter', 'url(#shadow)');
    g.append('line').attr('x1', x1).attr('y1', y1).attr('x2', x2).attr('y2', y2);
    g.append('path')
        .attr('d', `M${x2 + len * Math.cos(a + spread)},${y2 + len * Math.sin(a + spread)}` +
            `L${x2},${y2}L${x2 + len * Math.cos(a - spread)},${y2 + len * Math.sin(a - spread)}`);
}
arrow(5.0e-9, 1.6e-1, 5.56e-8, 5.7e-2, '#1f4fff', false);
arrow(2.7e-6, 3.27e-1, 8.05e-8, 9.5e-3, '#000', true);

// annotation text
let notes = [
    {t: 'pmf-011,', x: 140, y: 111, c: '#0000ff'},
    {t: 'EALF = 83 keV', x: 141, y: 172, c: '#0000ff'},
    {t: 'pcm-002,', x: 762, y: 200, c: '#ff00ff'},
    {t: 'EALF = 70 eV', x: 763, y: 261, c: '#ff00ff'},
    {t: 'pmf-021,', x: 507, y: 779, c: '#ff0000'},
    {t: 'EALF = 780 keV', x: 507, y: 837, c: '#ff0000'},
    {t: 'pmf-001,', x: 913, y: 726, c: '#168c16'},
    {t: 'EALF = 780 keV', x: 915, y: 788, c: '#168c16'}
];
svg.selectAll('text.note')
    .data(notes)
    .enter().append('text')
    .attr('class', 'note')
    .attr('x', d => d.x).attr('y', d => d.y)
    .attr('fill', d => d.c)
    .text(d => d.t);

svg.append('text')
    .attr('class', 'note')
    .attr('x', 421).attr('y', 107)
    .style('font-size', '48px')
    .attr('fill', '#000')
    .text('Case 28, EALF = 120 keV');
</script>
</body>
</html>
